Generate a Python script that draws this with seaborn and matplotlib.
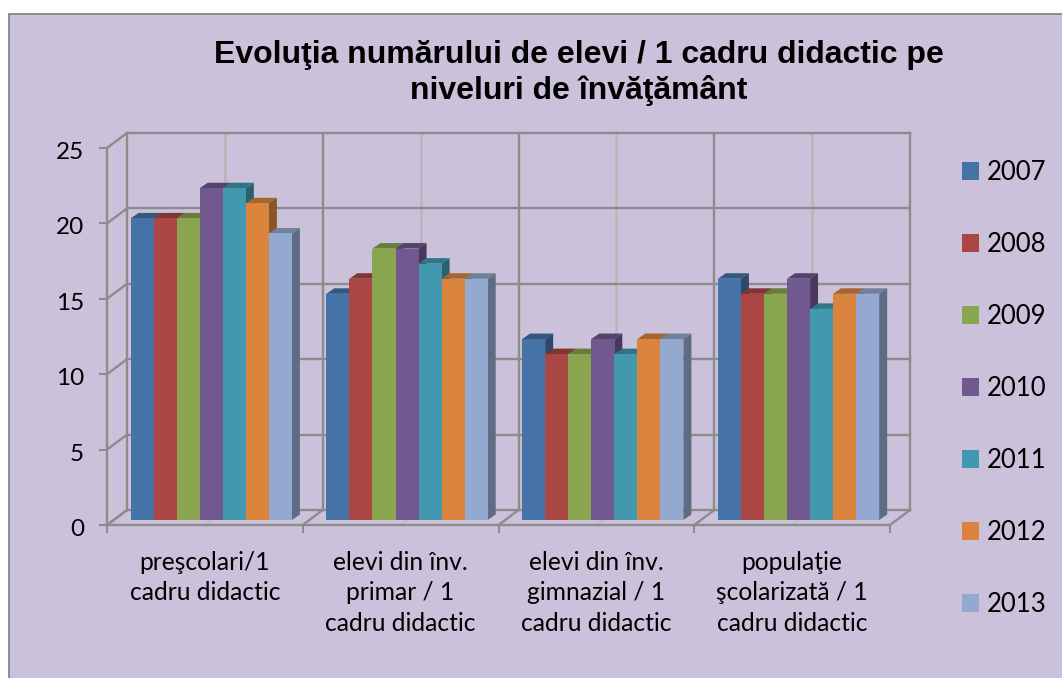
import numpy as np
import pandas as pd
import matplotlib
matplotlib.use("Agg")
import matplotlib.pyplot as plt
from matplotlib.colors import to_rgb
from matplotlib.patches import Polygon, Rectangle, Patch
from matplotlib.transforms import Affine2D, IdentityTransform
import seaborn as sns

# Values
categories = ["preşcolari/1\ncadru didactic",
              "elevi din înv.\nprimar / 1\ncadru didactic",
              "elevi din înv.\ngimnazial / 1\ncadru didactic",
              "populaţie\nşcolarizată / 1\ncadru didactic"]
years = ["2007", "2008", "2009", "2010", "2011", "2012", "2013"]
prescolari = [20, 20, 20, 22, 22, 21, 19]
primar = [15, 16, 18, 18, 17, 16, 16]
gimnazial = [12, 11, 11, 12, 11, 12, 12]
populatie = [16, 15, 15, 16, 14, 15, 15]
y_ticks = [0, 5, 10, 15, 20, 25]
colors = ["#4572A7", "#AA4643", "#89A54E", "#71588F", "#4198AF", "#DB843D", "#93A9CF"]
title = "Evoluţia numărului de elevi / 1 cadru didactic pe\nniveluri de învăţământ"

W, H = 1062, 678
GRID = "#8C8C8C"
LIGHT = "#B8B8B8"
BG = "#CCC1DA"
WALL = (20, 15)      # back wall shift, px
BAR = (6.4, 5)       # bar plane shift, px
DEPTH = (8, 5.5)     # bar depth, px

df = pd.DataFrame({"cat": np.repeat(categories, len(years)),
                   "year": years * len(categories),
                   "value": prescolari + primar + gimnazial + populatie})

sns.set_theme(style="white")
plt.rcParams["font.family"] = ["Lato", "DejaVu Sans"]

fig = plt.figure(figsize=(W / 100, H / 100), dpi=100, facecolor="white")
fig.add_artist(Rectangle((8.5 / W, -0.1), 1.1, 1 - 13.5 / H + 0.1, transform=fig.transFigure,
                         facecolor=BG, edgecolor="#868686", linewidth=1.3, zorder=-1))

ax = fig.add_axes([107 / W, 1 - 525 / H, 783 / W, 377 / H])
ax.patch.set_alpha(0)
sns.barplot(data=df, x="cat", y="value", hue="year", palette=colors, width=0.824,
            gap=0, saturation=1, legend=False, ax=ax)
ax.set_xlim(-0.5, 3.5)
ax.set_ylim(0, 25)
ax.set_xlabel("")
ax.set_ylabel("")


def px(x, y):
    return ax.transData.transform((x, y))


def seg(p, q, color=GRID, lw=1.7, z=1):
    ax.plot([p[0], q[0]], [p[1], q[1]], color=color, lw=lw, transform=IdentityTransform(),
            clip_on=False, zorder=z, solid_capstyle="projecting")


def shifted(x, y, d):
    return px(x, y) + np.array(d)


# back wall, side wall, floor
edges = np.arange(-0.5, 4, 1)
centers = np.arange(0, 4)
for c in centers:
    seg(shifted(c, 0, WALL), shifted(c, 25, WALL), color=LIGHT, lw=1.9, z=0.8)
    seg(px(c, 0), shifted(c, 0, WALL), color=LIGHT, lw=1, z=0.8)
for t in y_ticks:
    seg(shifted(-0.5, t, WALL), shifted(3.5, t, WALL))
    seg(px(-0.5, t), shifted(-0.5, t, WALL))
for e in edges:
    seg(shifted(e, 0, WALL), shifted(e, 25, WALL))
    seg(px(e, 0), shifted(e, 0, WALL))

# axes lines and ticks
sns.despine(ax=ax, top=True, right=True)
for side in ["left", "bottom"]:
    ax.spines[side].set_color(GRID)
    ax.spines[side].set_linewidth(1.7)
ax.set_yticks(y_ticks)
ax.set_xticks(centers)
ax.set_xticklabels(categories, linespacing=1.39)
ax.set_xticks(edges, minor=True)
ax.tick_params(axis="x", which="major", length=0, pad=18.5, labelsize=17.7, labelcolor="black")
ax.tick_params(axis="x", which="minor", bottom=True, length=5.5, width=1.5, color=GRID)
ax.tick_params(axis="y", left=True, length=5.5, width=1.5, color=GRID, pad=11, labelsize=17.5,
               labelcolor="black")
for lab in ax.get_yticklabels():
    lab.set_transform(lab.get_transform() + Affine2D().translate(0, -2.5))

# bars: front faces come from seaborn, then top and side faces are added on them
bars = sorted([p for p in ax.patches], key=lambda b: b.get_x())
shift = Affine2D().translate(*BAR)
for i, b in enumerate(bars):
    z = 3 + i * 0.01
    b.set_transform(ax.transData + shift)
    b.set_zorder(z + 0.005)
    b.set_clip_on(False)
    b.set_edgecolor("none")
    b.set_linewidth(0)
    rgb = np.array(to_rgb(b.get_facecolor()[:3]))
    x0, x1, v = b.get_x(), b.get_x() + b.get_width(), b.get_height()
    a = shifted(x0, v, BAR)
    c = shifted(x1, v, BAR)
    d = shifted(x1, 0, BAR)
    dep = np.array(DEPTH)
    ax.add_patch(Polygon([a, c, c + dep, a + dep], facecolor=rgb * 0.76, edgecolor="none",
                         transform=IdentityTransform(), clip_on=False, zorder=z))
    ax.add_patch(Polygon([c, c + dep, d + dep, d], facecolor=rgb * 0.64, edgecolor="none",
                         transform=IdentityTransform(), clip_on=False, zorder=z))

handles = [Patch(facecolor=col, edgecolor="none") for col in colors]
fig.legend(handles, years, loc="upper left", bbox_to_anchor=(962 / W, 1 - 160 / H),
           bbox_transform=fig.transFigure, frameon=False, fontsize=18.5, labelcolor="black",
           handlelength=0.66, handleheight=0.66, handletextpad=0.31, labelspacing=1.83,
           borderpad=0, borderaxespad=0)

fig.text(579 / W, 1 - 73 / H, title, ha="center", va="center", fontsize=23, fontweight="bold",
         family=["Liberation Sans", "DejaVu Sans"], color="black", linespacing=1.18)

fig.savefig("out.png", dpi=100)
